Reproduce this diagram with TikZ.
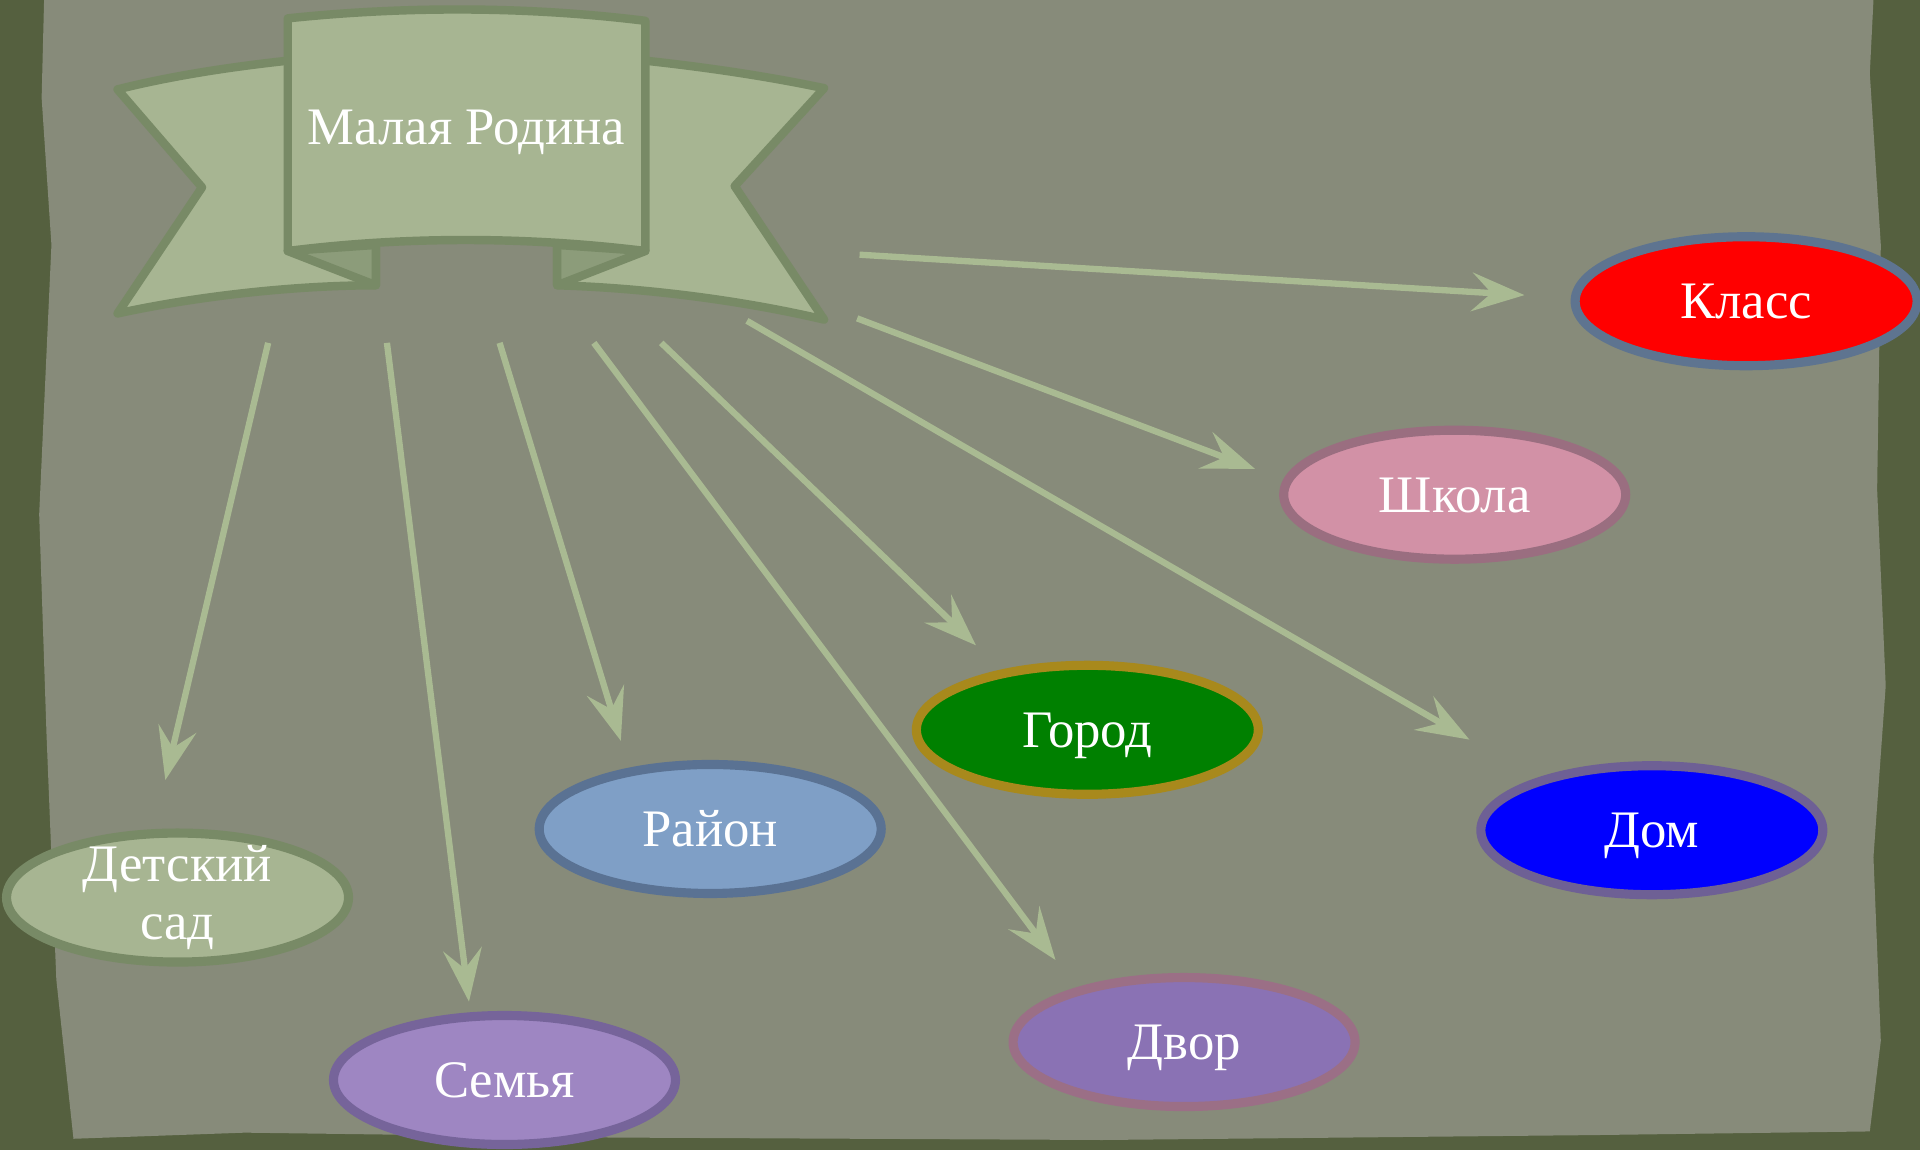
\documentclass[tikz,border=0pt]{standalone}
\usepackage{fontspec}
\setmainfont{Liberation Serif}
\usetikzlibrary{shapes.geometric,arrows.meta}

\definecolor{paper}{HTML}{878B7A}
\definecolor{edge}{HTML}{55603F}
\definecolor{sage}{HTML}{A7B592}
\definecolor{sageline}{HTML}{788A66}
\definecolor{sagefold}{HTML}{8C9C7A}
\definecolor{arrowsage}{HTML}{A9BA92}

\begin{document}
\begin{tikzpicture}[x=0.12245mm, y=-0.12245mm,
    oval/.style={ellipse, draw, line width=2.6pt, minimum width=34.2mm, minimum height=12.9mm, inner sep=0pt, text=white, font=\fontsize{15}{16.5}\selectfont},
    word/.style={text height=10pt, text depth=0pt},
    band/.style={fill=sage, draw=sageline, line width=2.4pt, line join=round},
    arr/.style={draw=arrowsage, line width=1.8pt, -{Stealth[length=15pt, width=11pt, inset=5.6pt]}}]
    % background paper
    \useasboundingbox (0,0) rectangle (1568,939);
    \fill[edge] (0,0) rectangle (1568,939);
    \fill[paper] (36,0) -- (1530,0) -- (1527,60) -- (1536,200) -- (1533,400) -- (1540,560) -- (1530,700)
        -- (1536,850) -- (1527,924) -- (1300,927) -- (900,931) -- (500,929) -- (200,925) -- (60,930)
        -- (46,800) -- (38,600) -- (32,420) -- (42,200) -- (34,80) -- cycle;

    % ribbon
    \draw[band] (250,48) .. controls (190,54) and (140,62) .. (96,73) -- (165,153) -- (96,256)
        .. controls (160,242) and (240,233) .. (307,233) -- (307,190) -- (250,190) -- cycle;
    \draw[band] (512,48) .. controls (572,54) and (625,62) .. (673,72) -- (600,152) -- (673,261)
        .. controls (605,245) and (525,235) .. (455,233) -- (455,190) -- (512,190) -- cycle;
    \draw[band, fill=sagefold] (235,205) -- (307,233) -- (307,200) -- cycle;
    \draw[band, fill=sagefold] (527,205) -- (455,233) -- (455,200) -- cycle;
    \draw[band] (235,15) .. controls (330,5) and (430,5) .. (527,17) -- (527,205)
        .. controls (430,193) and (330,193) .. (235,205) -- cycle;
    \node[text=white, font=\fontsize{15}{16}\selectfont] (rodina) at (381,108) {Малая Родина};

    % places
    \node[oval, word, fill=red, draw={rgb,255:red,94;green,116;blue,144}] (klass) at (1426,246) {Класс};
    \node[oval, word, fill={rgb,255:red,210;green,145;blue,166}, draw={rgb,255:red,154;green,110;blue,128}] (shkola) at (1188,404) {Школа};
    \node[oval, word, fill={rgb,255:red,0;green,128;blue,0}, draw={rgb,255:red,168;green,137;blue,28}] (gorod) at (888,596) {Город};
    \node[oval, word, fill=blue, draw={rgb,255:red,110;green,96;blue,149}] (dom) at (1349,678) {Дом};
    \node[oval, word, fill={rgb,255:red,127;green,159;blue,198}, draw={rgb,255:red,90;green,114;blue,147}] (rayon) at (580,677) {Район};
    \node[oval, align=center, inner ysep=-7pt, fill=sage, draw=sageline] (detsad) at (145,733) {Детский\\сад};
    \node[oval, word, fill={rgb,255:red,158;green,134;blue,194}, draw={rgb,255:red,118;green,100;blue,154}] (semya) at (412,882) {Семья};
    \node[oval, word, fill={rgb,255:red,138;green,114;blue,180}, draw={rgb,255:red,155;green,111;blue,134}] (dvor) at (967,851) {Двор};

    % arrow ends
    \coordinate (klass-s) at (702,208);  \coordinate (klass-t) at (1245,241);
    \coordinate (shkola-s) at (700,260); \coordinate (shkola-t) at (1025,383);
    \coordinate (dom-s) at (610,262);    \coordinate (dom-t) at (1200,604);
    \coordinate (gorod-s) at (540,280);  \coordinate (gorod-t) at (797,527);
    \coordinate (dvor-s) at (485,280);   \coordinate (dvor-t) at (862,784);
    \coordinate (rayon-s) at (408,280);  \coordinate (rayon-t) at (507,605);
    \coordinate (semya-s) at (316,280);  \coordinate (semya-t) at (383,818);
    \coordinate (detsad-s) at (219,280); \coordinate (detsad-t) at (135,637);

    \draw[arr] (klass-s) -- (klass-t);
    \draw[arr] (shkola-s) -- (shkola-t);
    \draw[arr] (dom-s) -- (dom-t);
    \draw[arr] (gorod-s) -- (gorod-t);
    \draw[arr] (dvor-s) -- (dvor-t);
    \draw[arr] (rayon-s) -- (rayon-t);
    \draw[arr] (semya-s) -- (semya-t);
    \draw[arr] (detsad-s) -- (detsad-t);
\end{tikzpicture}
\end{document}
